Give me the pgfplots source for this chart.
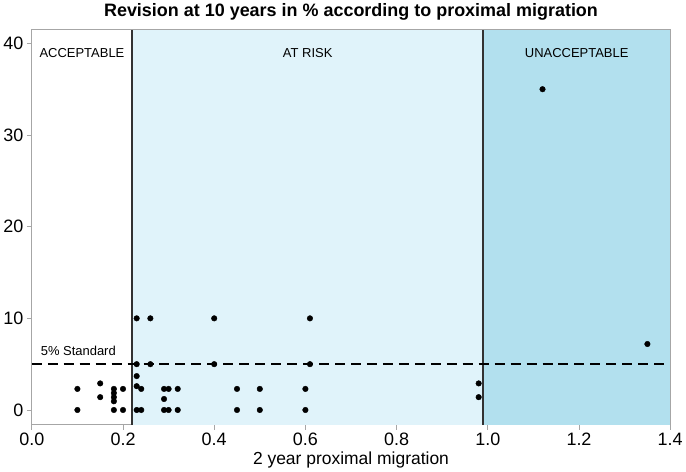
\documentclass[border=0pt]{standalone}
\usepackage{pgfplots}
\pgfplotsset{compat=1.18}
\usepackage{fontspec}
\setmainfont{Liberation Sans}
\definecolor{atrisk}{RGB}{224,243,250}
\definecolor{unacc}{RGB}{178,224,238}
\definecolor{divider}{RGB}{50,50,50}
\begin{document}
\begin{tikzpicture}
\begin{axis}[
  scale only axis, width=640pt, height=396pt,
  xmin=0, xmax=1.4, ymin=-1.6, ymax=41.5,
  axis line style={gray!70, line width=0.8pt},
  tick align=outside, tick pos=left,
  major tick length=5pt,
  tick style={gray!70, line width=0.8pt},
  xtick={0,0.2,0.4,0.6,0.8,1.0,1.2,1.4},
  ytick={0,10,20,30,40},
  /pgf/number format/assume math mode=true,
  xticklabel style={/pgf/number format/.cd, fixed, fixed zerofill, precision=1},
  tick label style={font=\fontsize{18}{20}\selectfont},
  xlabel={2 year proximal migration},
  xlabel style={font=\fontsize{17.5}{20}\selectfont, yshift=1pt},
  title={Revision at 10 years in \% according to proximal migration},
  title style={font=\bfseries\fontsize{18}{21}\selectfont, yshift=0pt},
  clip=true,
]
% zones
\fill[atrisk] (axis cs:0.22,-1.6) rectangle (axis cs:0.99,41.5);
\fill[unacc] (axis cs:0.99,-1.6) rectangle (axis cs:1.4,41.5);
\draw[gray!70, line width=0.8pt] (axis cs:0,41.5) -- (axis cs:1.4,41.5) -- (axis cs:1.4,-1.6);
\addplot[divider, line width=1.6pt, no marks] coordinates {(0.22,-1.6) (0.22,41.5)};
\addplot[divider, line width=1.6pt, no marks] coordinates {(0.99,-1.6) (0.99,41.5)};
% 5% standard
\addplot[black, line width=1.6pt, dash pattern=on 10pt off 6pt, no marks] coordinates {(0,5) (1.4,5)};
\node[anchor=west, font=\fontsize{13}{15}\selectfont] at (axis cs:0.012,6.4) {5\% Standard};
\node[font=\fontsize{13}{15}\selectfont] at (axis cs:0.11,39) {ACCEPTABLE};
\node[font=\fontsize{13}{15}\selectfont] at (axis cs:0.605,39) {AT RISK};
\node[font=\fontsize{13}{15}\selectfont] at (axis cs:1.195,39) {UNACCEPTABLE};
% data
\addplot[only marks, mark=*, mark size=2.8pt, black] coordinates {
  (0.10,2.3) (0.10,0)
  (0.15,2.9) (0.15,1.4)
  (0.18,2.3) (0.18,1.85) (0.18,1.4) (0.18,0.95) (0.18,0)
  (0.20,2.3) (0.20,0)
  (0.23,10) (0.23,5) (0.23,3.7) (0.23,2.6) (0.24,2.3) (0.23,0) (0.24,0)
  (0.26,10) (0.26,5)
  (0.29,2.3) (0.30,2.3) (0.29,1.2) (0.29,0) (0.30,0)
  (0.32,2.3) (0.32,0)
  (0.40,10) (0.40,5)
  (0.45,2.3) (0.45,0)
  (0.50,2.3) (0.50,0)
  (0.60,2.3) (0.60,0)
  (0.61,10) (0.61,5)
  (0.98,2.9) (0.98,1.4)
  (1.12,35)
  (1.35,7.2)
};
\end{axis}
\end{tikzpicture}
\end{document}
